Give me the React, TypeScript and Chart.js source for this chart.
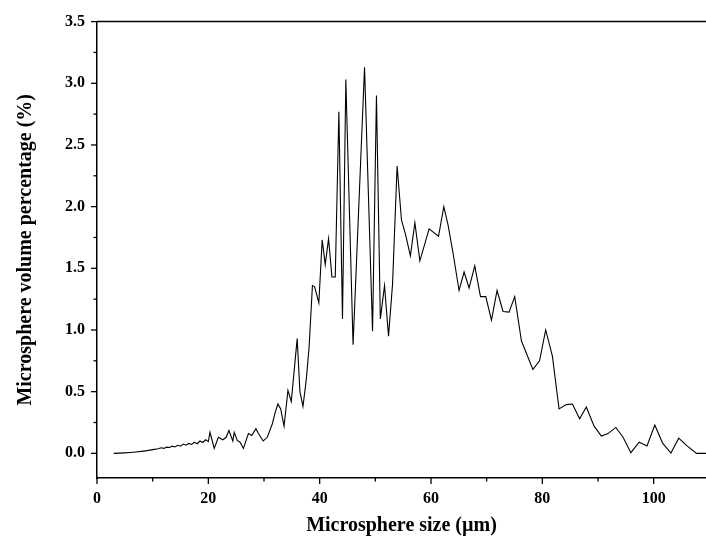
import React, { useEffect, useRef } from "react";
import { Chart, registerables } from "chart.js";

Chart.register(...registerables);

// Microsphere size (µm)
const sizes: number[] = [
  3.0, 4.0, 5.0, 6.0, 7.0, 8.0, 9.0, 10.0, 11.0, 11.5, 12.0, 12.5, 13.0, 13.5, 14.0, 14.5,
  15.0, 15.5, 16.0, 16.5, 17.0, 17.5, 18.0, 18.5, 19.0, 19.5, 20.0, 20.3, 21.06, 21.8,
  22.6, 23.2, 23.7, 24.4, 24.65, 25.2, 25.7, 26.3, 27.2, 27.8, 28.55, 29.0, 29.86, 30.6,
  31.5, 32.0, 32.5, 33.0, 33.6, 34.3, 34.9, 35.96, 36.45, 37.0, 37.6, 38.1, 38.7, 39.1,
  39.85, 40.45, 41.0, 41.6, 42.2, 42.8, 43.45, 44.1, 44.7, 46.0, 48.06, 49.5, 50.2, 50.9,
  51.65, 52.37, 53.09, 53.91, 54.7, 55.4, 56.3, 57.1, 58.0, 59.66, 61.35, 62.3, 63.07,
  63.97, 65.04, 65.94, 66.84, 67.86, 68.89, 69.84, 70.86, 71.87, 72.94, 74.02, 75.04,
  76.25, 78.3, 79.5, 80.6, 81.8, 83.0, 84.3, 85.4, 86.7, 87.9, 89.3, 90.6, 91.8, 93.2,
  94.5, 95.9, 97.4, 98.8, 100.2, 101.6, 103.1, 104.5, 106.0, 107.7, 109.4,
];

// Microsphere volume percentage (%)
const volumePct: number[] = [
  0.0, 0.002, 0.004, 0.007, 0.011, 0.016, 0.022, 0.03, 0.037, 0.045, 0.04, 0.05, 0.047, 0.058, 0.052, 0.065,
  0.058, 0.075, 0.066, 0.08, 0.072, 0.09, 0.078, 0.1, 0.088, 0.11, 0.095, 0.17, 0.04, 0.13,
  0.11, 0.13, 0.185, 0.1, 0.17, 0.105, 0.09, 0.04, 0.16, 0.145, 0.2, 0.16, 0.1, 0.13,
  0.24, 0.33, 0.4, 0.36, 0.22, 0.51, 0.42, 0.93, 0.5, 0.38, 0.6, 0.86, 1.36, 1.35,
  1.22, 1.73, 1.53, 1.74, 1.43, 1.43, 2.77, 1.09, 3.03, 0.88, 3.13, 0.99, 2.9, 1.09,
  1.36, 0.95, 1.37, 2.33, 1.89, 1.78, 1.6, 1.87, 1.56, 1.82, 1.76, 2.0, 1.85,
  1.62, 1.32, 1.47, 1.34, 1.52, 1.27, 1.27, 1.08, 1.32, 1.15, 1.145, 1.27,
  0.91, 0.68, 0.75, 1.0, 0.79, 0.36, 0.395, 0.4, 0.28, 0.375, 0.22, 0.14, 0.16, 0.21,
  0.13, 0.005, 0.09, 0.06, 0.23, 0.083, 0.002, 0.123, 0.06, 0.0, 0.0,
];

const xMajorTicks: number[] = [0, 20, 40, 60, 80, 100];
const xMinorTicks: number[] = [10, 30, 50, 70, 90];
const yMajorTicks: number[] = [0.0, 0.5, 1.0, 1.5, 2.0, 2.5, 3.0, 3.5];
const yMinorTicks: number[] = [0.25, 0.75, 1.25, 1.75, 2.25, 2.75, 3.25];

const FONT = "'Liberation Serif', 'Times New Roman', serif";

export default function App() {
  const ref = useRef<HTMLCanvasElement | null>(null);

  useEffect(() => {
    document.body.style.margin = "0";
    const canvas = ref.current;
    if (!canvas) return;

    const tickPlugin = {
      id: "customTicks",
      afterDraw(chart: any) {
        const ctx = chart.ctx;
        const xs = chart.scales.x;
        const ys = chart.scales.y;
        const area = chart.chartArea;
        ctx.save();
        ctx.strokeStyle = "#000";
        ctx.lineWidth = 1.5;
        ctx.beginPath();
        ctx.moveTo(area.left, area.top);
        ctx.lineTo(area.right, area.top);
        ctx.stroke();
        ctx.lineWidth = 1.3;
        const drawX = (vals: number[], len: number) => {
          vals.forEach((v) => {
            const px = xs.getPixelForValue(v);
            ctx.beginPath();
            ctx.moveTo(px, area.bottom);
            ctx.lineTo(px, area.bottom + len);
            ctx.stroke();
          });
        };
        const drawY = (vals: number[], len: number) => {
          vals.forEach((v) => {
            const py = ys.getPixelForValue(v);
            ctx.beginPath();
            ctx.moveTo(area.left, py);
            ctx.lineTo(area.left - len, py);
            ctx.stroke();
          });
        };
        drawX(xMajorTicks, 6);
        drawX(xMinorTicks, 3.5);
        drawY(yMajorTicks, 6);
        drawY(yMinorTicks, 3.5);
        ctx.restore();
      },
    };

    const chart = new Chart(canvas, {
      type: "line",
      data: {
        datasets: [
          {
            data: sizes.map((s, i) => ({ x: s, y: volumePct[i] })),
            borderColor: "#000",
            borderWidth: 1.1,
            pointRadius: 0,
            tension: 0,
            fill: false,
          },
        ],
      },
      options: {
        animation: false,
        responsive: false,
        maintainAspectRatio: false,
        layout: { padding: { left: 10, right: 0, top: 19, bottom: 4 } },
        plugins: { legend: { display: false }, tooltip: { enabled: false } },
        scales: {
          x: {
            type: "linear",
            min: 0,
            max: 109.4,
            grid: { display: false, drawTicks: false },
            border: { display: true, color: "#000", width: 1.5 },
            afterBuildTicks: (scale: any) => {
              scale.ticks = xMajorTicks.map((v) => ({ value: v }));
            },
            afterFit: (scale: any) => {
              scale.height = 64;
            },
            ticks: {
              color: "#000",
              padding: 11,
              maxRotation: 0,
              autoSkip: false,
              font: { family: FONT, size: 16, weight: "bold" },
              callback: (v: any) => String(v),
            },
            title: {
              display: true,
              text: "Microsphere size (µm)",
              color: "#000",
              font: { family: FONT, size: 20, weight: "bold" },
            },
          },
          y: {
            type: "linear",
            min: -0.2,
            max: 3.5,
            grid: { display: false, drawTicks: false },
            border: { display: true, color: "#000", width: 1.5 },
            afterBuildTicks: (scale: any) => {
              scale.ticks = yMajorTicks.map((v) => ({ value: v }));
            },
            afterFit: (scale: any) => {
              scale.width = 87;
            },
            ticks: {
              color: "#000",
              padding: 12,
              autoSkip: false,
              font: { family: FONT, size: 16, weight: "bold" },
              callback: (v: any) => Number(v).toFixed(1),
            },
            title: {
              display: true,
              text: "Microsphere volume percentage (%)",
              color: "#000",
              font: { family: FONT, size: 20, weight: "bold" },
            },
          },
        },
      },
      plugins: [tickPlugin],
    });

    return () => chart.destroy();
  }, []);

  return (
    <div style={{ width: 706, height: 546 }}>
      <canvas ref={ref} width={706} height={546} style={{ display: "block" }} />
    </div>
  );
}
